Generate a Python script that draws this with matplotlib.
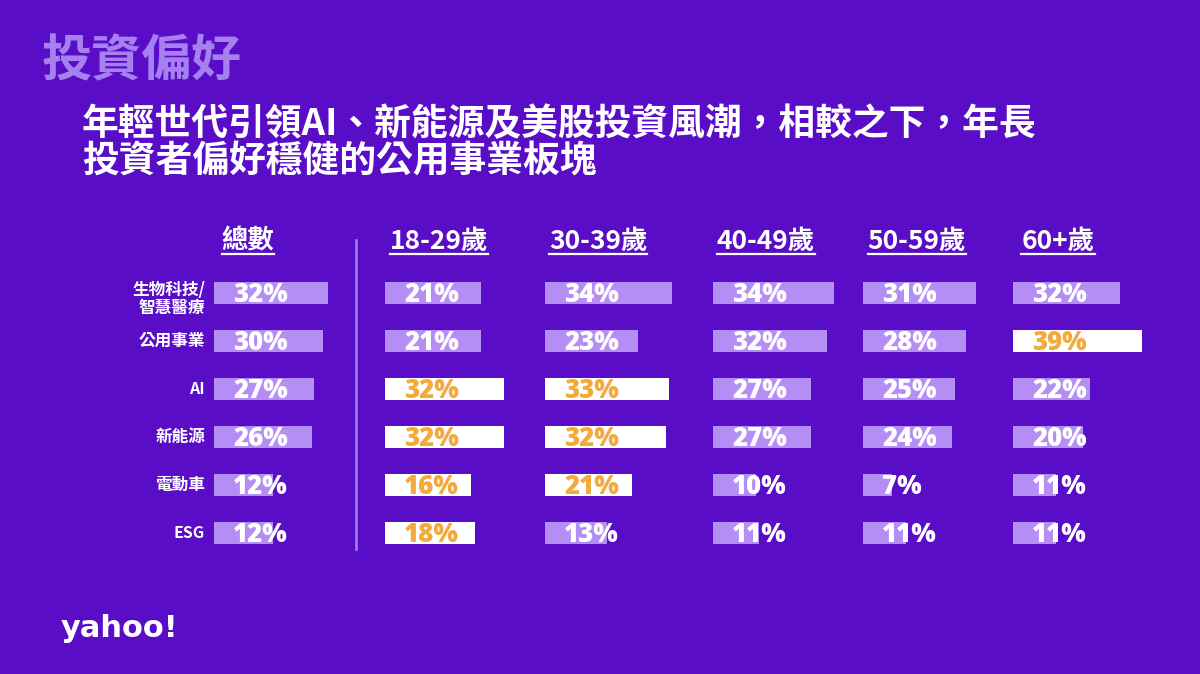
import matplotlib
matplotlib.use('Agg')
import matplotlib.pyplot as plt
from matplotlib.lines import Line2D

# ---------------- data ----------------
categories = ['生物科技/\n智慧醫療', '公用事業', 'AI', '新能源', '電動車', 'ESG']
groups = ['總數', '18-29歲', '30-39歲', '40-49歲', '50-59歲', '60+歲']
total = [32, 30, 27, 26, 12, 12]
age_18_29 = [21, 21, 32, 32, 16, 18]
age_30_39 = [34, 23, 33, 32, 21, 13]
age_40_49 = [34, 32, 27, 27, 10, 11]
age_50_59 = [31, 28, 25, 24, 7, 11]
age_60_plus = [32, 39, 22, 20, 11, 11]
hl_total = [0, 0, 0, 0, 0, 0]
hl_18_29 = [0, 0, 1, 1, 1, 1]
hl_30_39 = [0, 0, 1, 1, 1, 0]
hl_40_49 = [0, 0, 0, 0, 0, 0]
hl_50_59 = [0, 0, 0, 0, 0, 0]
hl_60_plus = [0, 1, 0, 0, 0, 0]
series = [total, age_18_29, age_30_39, age_40_49, age_50_59, age_60_plus]
highlights = [hl_total, hl_18_29, hl_30_39, hl_40_49, hl_50_59, hl_60_plus]

title = '投資偏好'
subtitle1 = '年輕世代引領AI、新能源及美股投資風潮，相較之下，年長'
subtitle2 = '投資者偏好穩健的公用事業板塊'

# ---------------- style / layout ----------------
W, H = 1200, 674
BG = '#590dc7'
BAR = '#b48ef5'
WHITE = '#ffffff'
ORANGE = '#f4a93c'
TITLE_C = '#a580ee'
SEP_C = '#a482ec'
CJK = ['Noto Sans CJK TC', 'DejaVu Sans']
NUMF = ['Open Sans', 'DejaVu Sans']

col_x = [214, 385, 545, 713, 863, 1013]        # px where each column's bars begin
col_scale = [2.75, 2.1, 3.1, 3.25, 3.5, 3.07]  # px per percentage point
col_min = [26, 52, 22, 10, 4.5, 9]             # px minimum bar length
header_x = [248, 439, 598, 766, 917, 1058]
AXW = 170
ROW_TOP, ROW_BOT = 269, 557   # px extents of the rows area

fig = plt.figure(figsize=(W / 100, H / 100), dpi=100)
fig.patch.set_facecolor(BG)


def fx(px):
    return px / W


def fy(py):
    return 1 - py / H


# titles
fig.text(fx(42), fy(62), title, fontsize=36, fontweight='bold', color=TITLE_C,
         family=CJK, va='center', ha='left')
fig.text(fx(82), fy(125), subtitle1, fontsize=26.5, fontweight='bold', color=WHITE,
         family=CJK, va='center', ha='left')
fig.text(fx(82), fy(162), subtitle2, fontsize=26.5, fontweight='bold', color=WHITE,
         family=CJK, va='center', ha='left')

# headers
header_texts = []
for g, hx in zip(groups, header_x):
    t = fig.text(fx(hx), fy(241), g, fontsize=19, fontweight='bold', color=WHITE,
                 family=CJK, va='center', ha='center')
    header_texts.append(t)

# separator
fig.add_artist(Line2D([fx(356), fx(356)], [fy(240), fy(549)], color=SEP_C, lw=1.8))

# row labels
row_pitch = (ROW_BOT - ROW_TOP) / len(categories)
for i, c in enumerate(categories):
    py = ROW_TOP + row_pitch * (i + 0.5)
    if '\n' in c:
        py += 6
    latin = c.isascii()
    fig.text(fx(205), fy(py), c, fontsize=11.5 if latin else 12,
             fontweight='bold', color=WHITE,
             family=CJK, va='center', ha='right', linespacing=1.05,
             multialignment='right')

# bar columns
for j, (vals, hls) in enumerate(zip(series, highlights)):
    ax = fig.add_axes([fx(col_x[j]), fy(ROW_BOT), fx(AXW), (ROW_BOT - ROW_TOP) / H])
    ax.set_facecolor('none')
    base = -col_min[j] / col_scale[j]
    ax.set_xlim(base, base + AXW / col_scale[j])
    ax.set_ylim(len(categories) - 0.5, -0.5)
    ys = list(range(len(vals)))
    colors = [WHITE if h else BAR for h in hls]
    ax.barh(ys, [v - base for v in vals], left=base, height=0.46, color=colors,
            edgecolor='none')
    for y, v, h in zip(ys, vals, hls):
        ax.annotate(f'{v}%', xy=(base, y), xytext=(19, -9), textcoords='offset pixels',
                    ha='left', va='baseline', fontsize=18.5, fontweight='heavy',
                    color=ORANGE if h else WHITE, family=NUMF, annotation_clip=False)
    ax.axis('off')

# underline headers
fig.canvas.draw()
r = fig.canvas.get_renderer()
for t in header_texts:
    bb = t.get_window_extent(renderer=r)
    fig.add_artist(Line2D([bb.x0 / W, bb.x1 / W], [fy(253.5), fy(253.5)], color=WHITE, lw=1.6))

# logo
fig.text(fx(61), fy(637), 'yahoo!', fontsize=22, fontweight='heavy', color=WHITE,
         family=['DejaVu Sans'], va='baseline', ha='left')

fig.savefig('out.png', dpi=100, facecolor=BG)
